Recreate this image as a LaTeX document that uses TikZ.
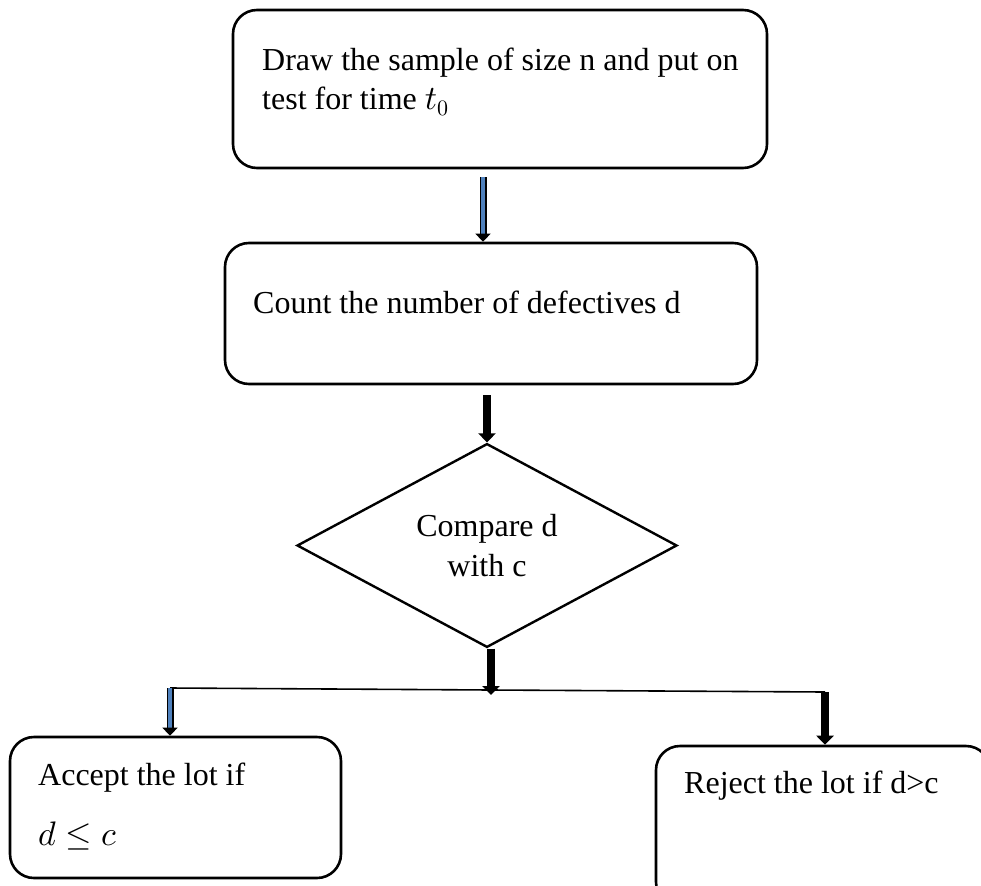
\documentclass[tikz,border=0pt]{standalone}
\usepackage{fontspec}
\setmainfont{Liberation Serif}
\usetikzlibrary{shapes.geometric,arrows.meta}
% scalable math fonts for the large text size
\DeclareFontShape{OML}{cmm}{m}{it}{<->cmmi10}{}
\DeclareFontShape{OMS}{cmsy}{m}{n}{<->cmsy10}{}
\DeclareFontShape{OT1}{cmr}{m}{n}{<->cmr10}{}
\DeclareMathSizes{32}{34}{22}{16}
\definecolor{shaftblue}{RGB}{79,129,189}
\tikzset{
	box/.style={draw,line width=2.6pt,rounded corners=24pt,inner sep=0pt},
	txt/.style={anchor=base west,inner sep=0pt},
	blackarrow/.style={line width=8pt,-{Triangle[width=17pt,length=9pt]}},
	bluearrow/.style={draw=black,line width=1.5pt,double=shaftblue,double distance=4pt,-{Triangle[width=15pt,length=8pt]}}
}
\begin{document}
\begin{tikzpicture}[x=1pt,y=-1pt,font=\fontsize{32}{40}\selectfont]
	\useasboundingbox (0,0) rectangle (981,885);
	% boxes
	\node[box,minimum width=534pt,minimum height=158pt] (b1) at (500,89) {};
	\node[box,minimum width=532pt,minimum height=141pt] (b2) at (491,313.5) {};
	\node[diamond,draw,line width=2.4pt,minimum width=380pt,minimum height=191pt,inner sep=0pt,align=center] (cmp) at (487,545.5) {Compare d\\with c};
	\node[box,minimum width=331pt,minimum height=141pt] (acc) at (175.5,807.5) {};
	\node[box,minimum width=334pt,minimum height=160pt] (rej) at (823,826) {};
	% texts
	\node[txt] (t1) at (262,71) {Draw the sample of size n and put on};
	\node[txt] (t2) at (262,110) {test for time $t_0$};
	\node[txt] (t3) at (253,313) {Count the number of defectives d};
	\node[txt] (t4) at (38,785) {Accept the lot if};
	\node[txt] (t5) at (38,845) {$d \le c$};
	\node[txt] (t6) at (684,793) {Reject the lot if d>c};
	% connectors
	\coordinate (sl) at (170,688);
	\coordinate (sm) at (491,690);
	\coordinate (sr) at (825,692);
	\draw[bluearrow,shorten <=8pt] ([xshift=-17pt]b1.south) -- ([xshift=-8pt]b2.north);
	\draw[blackarrow,shorten <=10pt] ([xshift=-4pt]b2.south) -- (cmp.north);
	\draw[blackarrow,shorten >=-5pt] (cmp.south -| sm) -- (sm);
	\draw[line width=1.6pt] (sl) -- (sm) -- (sr);
	\draw[bluearrow] (sl) -- (acc.north -| sl);
	\draw[blackarrow] (sr) -- (rej.north -| sr);
\end{tikzpicture}
\end{document}
